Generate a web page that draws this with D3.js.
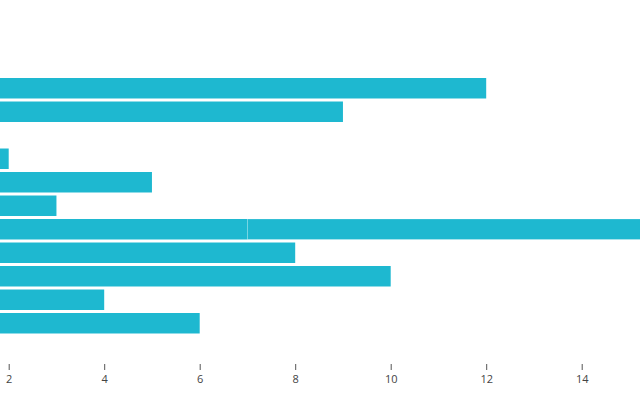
<!DOCTYPE html>
<html>
<head>
<meta charset="utf-8">
<script src="https://cdn.jsdelivr.net/npm/d3@7"></script>
<style>
html, body { margin: 0; padding: 0; background: #fff; }
svg { display: block; }
</style>
</head>
<body>
<svg id="chart" width="640" height="400"></svg>
<script>
const categories = ["A", "B", "C", "D", "E", "F", "G", "H", "I", "J", "K"];
const seriesA = [12, 9, null, 2, 5, 3, 7, 8, 10, 4, 6];
const seriesB = [null, null, null, null, null, null, 9, null, null, null, null];
const tickValues = [2, 4, 6, 8, 10, 12, 14];

const svg = d3.select("#chart");
const x0 = -86.8, pxPerUnit = 47.75;
const x = d3.scaleLinear().domain([0, 16]).range([x0, x0 + 16 * pxPerUnit]);
const y = d3.scaleBand().domain(categories).range([76.5, 335]).paddingInner(0.128).paddingOuter(0.064);

const color = "#1eb8d0";
const g = svg.append("g");

categories.forEach((c, i) => {
  const a = seriesA[i];
  if (a != null) {
    g.append("rect").attr("x", x(0)).attr("y", y(c)).attr("width", x(a) - x(0))
      .attr("height", y.bandwidth()).attr("fill", color);
    const b = seriesB[i];
    if (b != null) {
      g.append("rect").attr("x", x(a)).attr("y", y(c)).attr("width", x(a + b) - x(a))
        .attr("height", y.bandwidth()).attr("fill", color)
        .attr("stroke", "rgba(255,255,255,0.35)").attr("stroke-width", 0.6);
    }
  }
});

const axis = svg.append("g").attr("transform", "translate(0,364)")
  .call(d3.axisBottom(x).tickValues(tickValues).tickSize(6).tickPadding(5));
axis.select(".domain").remove();
axis.selectAll("line").attr("stroke", "#555");
axis.selectAll("text").attr("fill", "#444").style("font-family", "'Open Sans', sans-serif").style("font-size", "11px");
</script>
</body>
</html>
